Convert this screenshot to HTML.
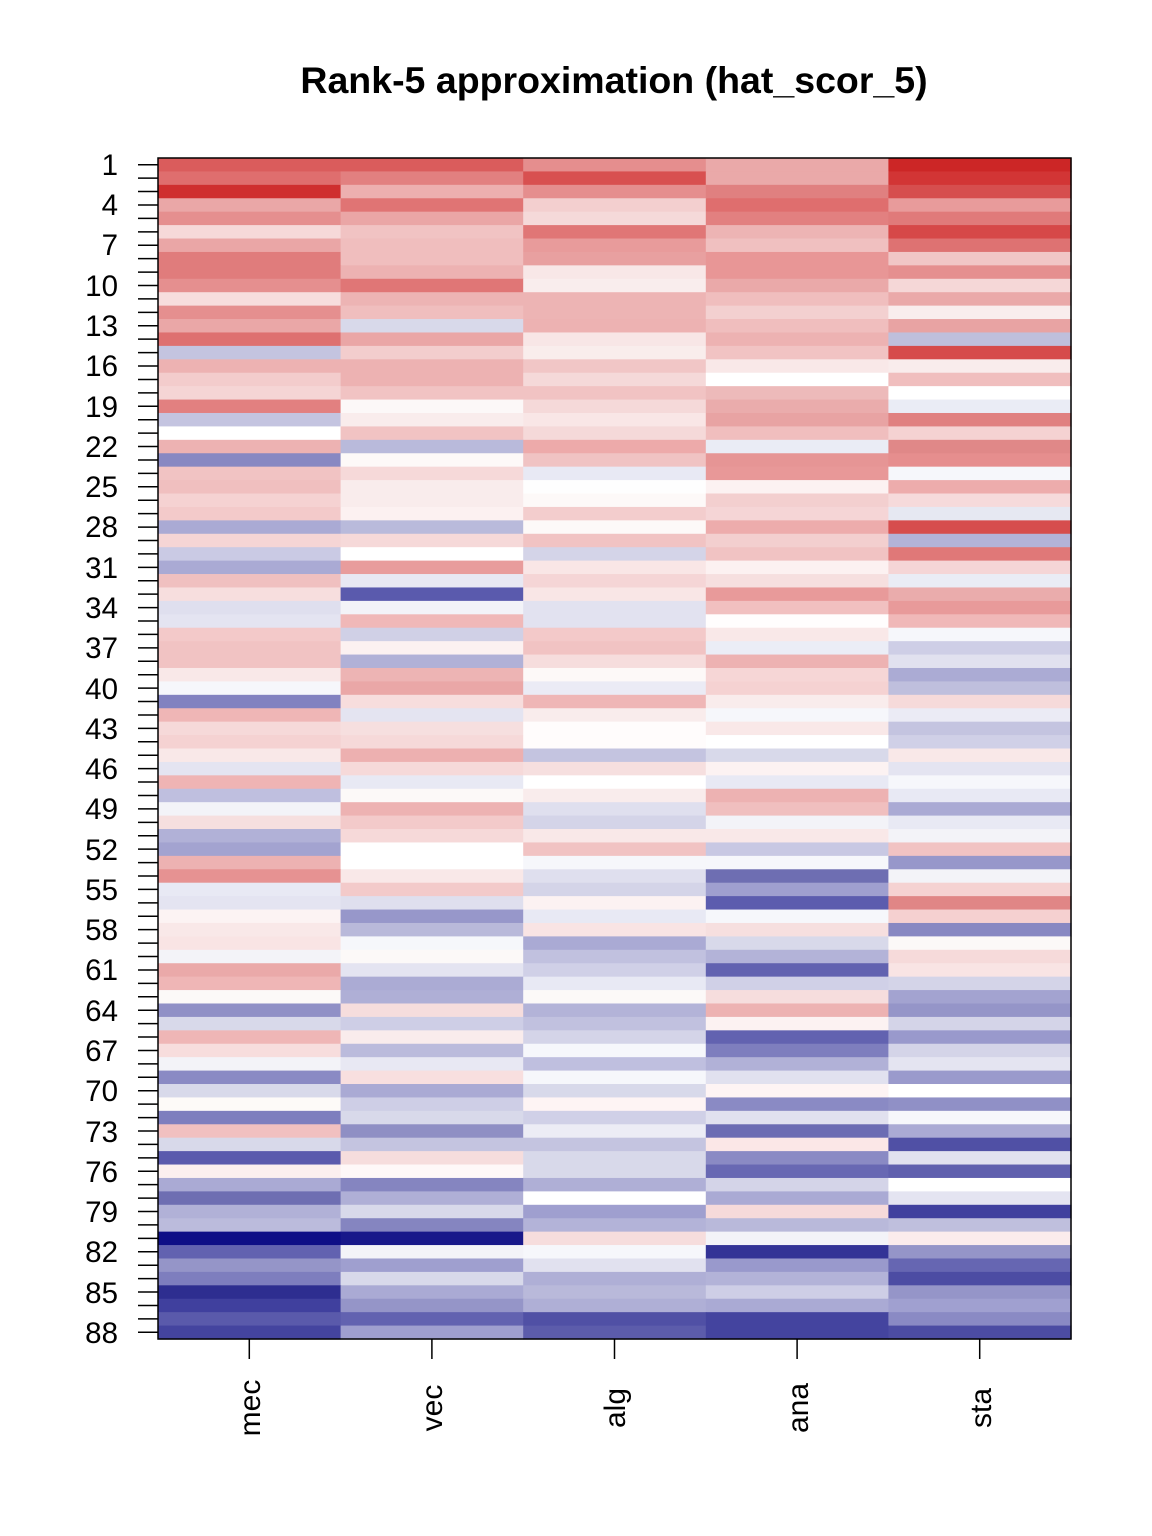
<!DOCTYPE html>
<html><head><meta charset="utf-8"><style>body{margin:0;background:#fff}svg{display:block}</style></head>
<body>
<svg id="s" width="1152" height="1536" xmlns="http://www.w3.org/2000/svg" font-family="Liberation Sans, Arial, sans-serif">
<rect width="1152" height="1536" fill="#fff"/>
<text x="614" y="93" text-anchor="middle" font-size="37.5" font-weight="bold">Rank-5 approximation (hat_scor_5)</text>
<g id="cells"></g>
<rect x="158" y="158" width="913" height="1181" fill="none" stroke="#000" stroke-width="1.5"/>
<g id="ticks" stroke="#000" stroke-width="1.5"></g>
<g font-size="29.5" text-anchor="end">
<text x="118" y="175">1</text><text x="118" y="215">4</text><text x="118" y="255">7</text>
<text x="118" y="296">10</text><text x="118" y="336">13</text><text x="118" y="376">16</text>
<text x="118" y="417">19</text><text x="118" y="457">22</text><text x="118" y="497">25</text>
<text x="118" y="537">28</text><text x="118" y="578">31</text><text x="118" y="618">34</text>
<text x="118" y="658">37</text><text x="118" y="699">40</text><text x="118" y="739">43</text>
<text x="118" y="779">46</text><text x="118" y="819">49</text><text x="118" y="860">52</text>
<text x="118" y="900">55</text><text x="118" y="940">58</text><text x="118" y="980">61</text>
<text x="118" y="1021">64</text><text x="118" y="1061">67</text><text x="118" y="1101">70</text>
<text x="118" y="1142">73</text><text x="118" y="1182">76</text><text x="118" y="1222">79</text>
<text x="118" y="1262">82</text><text x="118" y="1303">85</text><text x="118" y="1343">88</text>
</g>
<g font-size="30" text-anchor="middle">
<text transform="translate(260,1408) rotate(-90)">mec</text>
<text transform="translate(442,1408) rotate(-90)">vec</text>
<text transform="translate(625,1408) rotate(-90)">alg</text>
<text transform="translate(808,1408) rotate(-90)">ana</text>
<text transform="translate(991,1408) rotate(-90)">sta</text>
</g>
</svg>
<script>
var C=[
"da5c5c da5c5c e58e8e eaa9a9 cc2626","df6e6e e28080 d85050 eaa9a9 d23535","cf2f2f edafaf e58e8e e08080 d64e4e",
"eaa7a7 e07474 f3cfcf df6e6e e89b9b","e58f8f eaa6a6 f5d9d9 e28080 e07a7a","f6d9d9 f1c3c3 e07676 edb4b4 d64848",
"eaa6a6 f0bebe e89b9b f0c0c0 de7272","e07c7c f0bebe e8a0a0 e89696 f1c6c6","e07c7c edb2b2 f8e7e7 e89696 e58f8f",
"e58f8f e07676 f9eded eaa9a9 f5d7d7","f7dddd edb4b4 edb4b4 f0bebe eaa9a9","e58f8f f0bebe edb4b4 f3d0d0 f9eded",
"eaa7a7 d8d9ea edb2b2 f0bebe e8a3a3","de7070 eaa6a6 f8e6e6 edb2b2 bfbfdc","c4c4e0 f3cdcd f9edec f1c3c3 d64b4b",
"edb2b2 edb2b2 f1c6c6 f9e8e8 f9ecec","f3cccc edb2b2 f5d9d9 ffffff f0bebe","f5d5d5 f1c3c3 f1c3c3 edbaba ffffff",
"e28080 fcf8f8 f5d9d9 eaacac eaecf5","c4c4e0 f9ecec f9e6e6 e8a3a3 e08080","ffffff f1c3c3 f5d9d9 f0bebe f5d2d2",
"edb2b2 b9badb edaaaa eaecf5 e08888",
"8888c2 fdf9f8 f0c3c3 e69595 e68e8e","f1c3c3 f6d9d9 e8e9f4 e89898 f6f7fb","f0bfbf f9ecec fefefe fcf2f2 edacac",
"f5d2d2 f9ecec fdf9f8 f3cfcf f6dadb","f3caca fcf1f1 f3cdcd f5d5d6 e6e8f2","aaaad4 b9badb fdf9f8 edacac d64d4d",
"f5d5d5 f6d9d9 f1c3c3 f3cfcf b3b3d8","cacae4 ffffff d4d4e8 f1c3c3 e07878","aaaad4 e89c9c f9e6e6 fcf1f1 f5d5d6",
"f0c0c0 e8e8f3 f5d5d6 f6dfdf eaecf5","f7dede 5a5aad f9e6e6 e89a9a eaacac","dfdfee f3f3f8 e2e2f0 f1c0c0 e89a9a",
"e4e4f1 f0b8b8 e2e2f0 fffdfd f0b8b8","f3c9c9 d0d0e6 f3c9c9 f9e8e8 f6f7fb","f1c3c3 fcf1f1 f1c3c3 ebedf6 cecee6",
"f1c3c3 b1b1d7 f6dddd edb2b2 e1e1ef","f9e8e8 edb4b4 fdf9f8 f6d6d6 ababd4","f6f7fb eaa7a7 ebebf5 f5d2d2 bfbfdd",
"8282c0 f7dddd efb6b6 f9ecec f6dada","efb6b6 e4e4f1 f9ecec f6f7fb ebebf5","f6d9d9 f6dfdf fffcfc f9e8e8 c4c4e0",
"f5d2d2 f6d9d9 fffcfc ffffff d0d0e7",
"f9e8e8 edb0b0 c4c4e0 d8d9ea f9e8e8","e4e4f1 f6d9d9 f6dfdf fcf2f2 e4e4f1","efb4b4 e8e9f4 ffffff e8e9f4 f6f7fb",
"bfbfdf fcf9f8 f9ecec edb2b2 e8e9f4","f3f3f8 edb2b2 dfdfee f0bfbf aaaad4","f6dfdf f3caca d4d4e8 f3f3f8 e8e9f4",
"b1b1d7 f6d9d9 f9e8e8 f9e8e8 f3f3f8","a3a3d0 ffffff f1c3c3 c8c8e3 f1c3c3","edb2b2 ffffff f6f7fb f6f7fb 9797ca",
"e69292 f9e8e8 dfdfee 6e6eb2 f3f3f8","e8e9f4 f3caca d4d4e8 9f9fcf f5d2d2","e4e4f1 dfdfee fcf2f2 5c5cae e08686",
"fcf3f3 9797ca e8e9f4 f6f7fb f5d0d0","f9e8e8 b9b9da f9e4e4 f6dfdf 8888c2","f9e4e4 f6f7fb aaaad4 d8d9ea fcf9f8",
"f3f3f8 fcf9f8 c1c1df b3b3d8 f6dada","eaa9a9 e4e4f1 d0d0e7 6262b0 f9e4e4","efb6b6 ababd4 e8e9f4 d0d0e7 d4d4e8",
"fcf9f8 afafd6 fcf9f8 f6dddd a3a3d0","9090c6 f6dddd b3b3d8 edb2b2 9595c8","d8d9ea cecee6 c1c1df fcf2f2 d4d4e8",
"efb6b6 f9ecec d4d4e8 6262b0 9999cc",
"f7dddd bbbbdc f6f7fb 7e7ebe d4d4e8","f3f3f8 e8e8f3 bfbfdf b1b1d7 e4e4f1","8a8ac4 f8dfdf f6f7fb e1e1ef 9a9acc",
"d8d9ea aaaad4 d8d9ea fef4f4 ffffff","fdfaf8 cecee6 fef4f4 8a8ac4 9090c6","7e7ebe d8d9ea d0d0e7 e1e1ef f6f7fb",
"f1c0c0 8f8fc4 ececf5 6c6cb3 aaaad4","d8d9ea c4c4e0 c4c4e0 fbe7e7 5050a5","5a5aad f6dddd d8d9ea 8a8ac4 e1e1ef",
"fbefef fef8f8 d8d9ea 6868b3 6060ae","aaaad4 8585c0 afafd6 d4d4e8 ffffff","6e6eb2 afafd6 ffffff aaaad4 e4e4f1",
"b1b1d7 d8d9ea 9f9fcf f6dada 40409e","bbbbdc 8585c0 b3b3d8 b9b9da bfbfdd","0e0e86 18188a f6dddd f3f3f8 fbecec",
"6262b0 f3f3f8 f6f7fb 333396 9595c8","9595c8 9f9fcf e1e1ef 9999cc 6666b2","7e7ebe d8d9ea afafd6 b3b3d8 4c4ca3",
"2e2e90 aaaad4 b9b9da cecee6 9595c8","40409e 9595c8 afafd6 aaaad4 a0a0d0","5a5aab 6262b0 5050a5 44449f 8a8ac4",
"44449f 9f9fcf 5c5cab 44449f 4c4ca3"];
var ns="http://www.w3.org/2000/svg",g=document.getElementById("cells"),t=document.getElementById("ticks");
var rh=1181/88,cw=913/5;
for(var i=0;i<88;i++){var r=C[i].split(" ");for(var j=0;j<5;j++){var e=document.createElementNS(ns,"rect");
e.setAttribute("x",158+j*cw);e.setAttribute("y",158+i*rh);e.setAttribute("width",cw+0.6);e.setAttribute("height",rh+0.6);
e.setAttribute("fill","#"+r[j]);g.appendChild(e);}
var y=158+(i+0.5)*rh,l=document.createElementNS(ns,"line");l.setAttribute("x1",138);l.setAttribute("x2",158);
l.setAttribute("y1",y);l.setAttribute("y2",y);t.appendChild(l);}
for(var j=0;j<5;j++){var x=158+(j+0.5)*cw,l=document.createElementNS(ns,"line");l.setAttribute("x1",x);l.setAttribute("x2",x);
l.setAttribute("y1",1339);l.setAttribute("y2",1359);t.appendChild(l);}
</script>
</body></html>
